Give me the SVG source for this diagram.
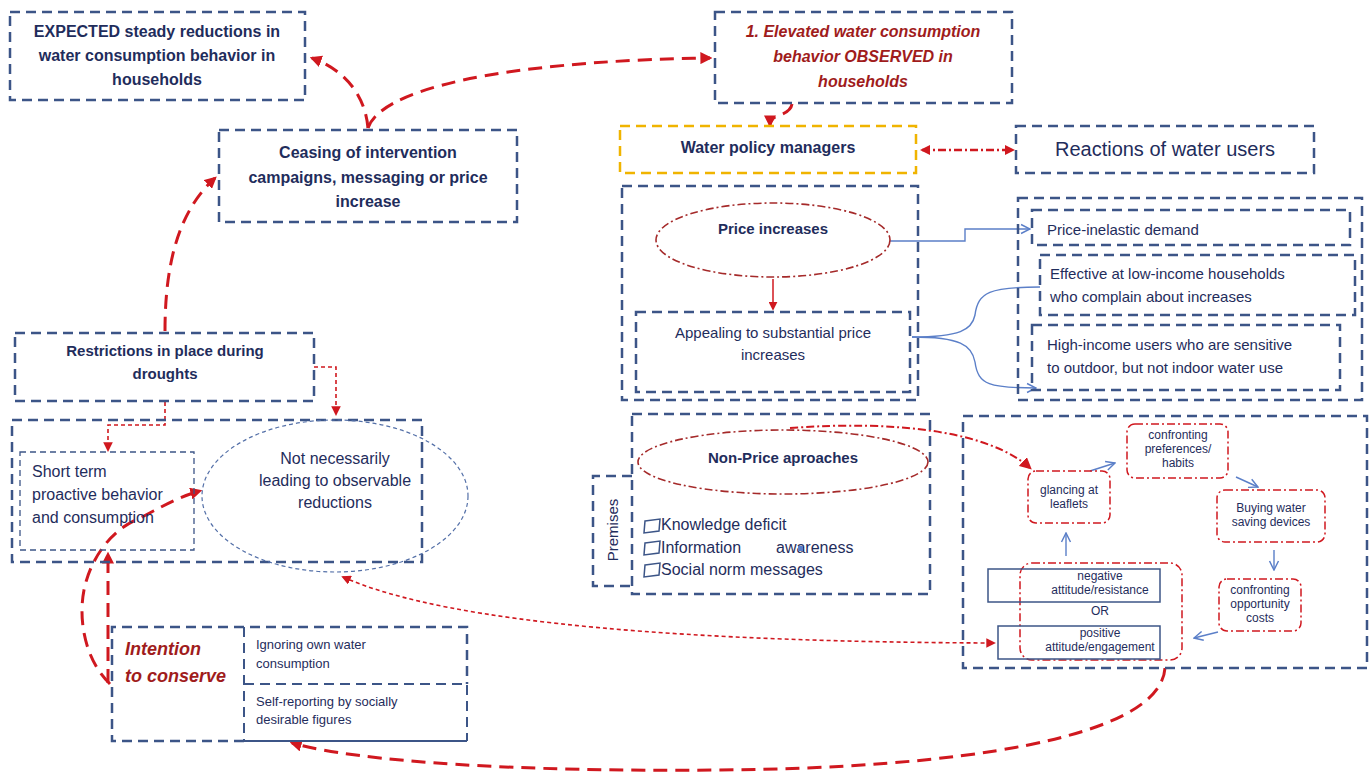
<svg xmlns="http://www.w3.org/2000/svg" width="1371" height="773" viewBox="0 0 1371 773">
<style>
text{font-family:"Liberation Sans",Arial,sans-serif;fill:#1f2d5c}
.b{font-weight:bold}
.box{fill:none;stroke:#3c5587;stroke-width:2.5;stroke-dasharray:10 6}
.thin{fill:none;stroke:#3c5587;stroke-width:1.3;stroke-dasharray:6 4}
.solid{fill:none;stroke:#3c5587;stroke-width:1.5}
.red{fill:none;stroke:#d0181f;stroke-width:3;stroke-dasharray:14 8}
.rsm{fill:none;stroke:#d0181f;stroke-width:1.6;stroke-dasharray:4 3}
.dd{fill:none;stroke:#a52a2a;stroke-width:1.6;stroke-dasharray:8 3 2 3}
.rr{fill:none;stroke:#d0181f;stroke-width:1.5;stroke-dasharray:8 3 2 3}
.blue{fill:none;stroke:#5b7fc8;stroke-width:1.4}
.m{text-anchor:middle}
.it{font-style:italic;font-weight:bold;fill:#a01c1c}
.s12{font-size:12px}
</style>
<defs>
<marker id="ah" viewBox="0 0 10 10" refX="8" refY="5" markerWidth="4" markerHeight="4" orient="auto-start-reverse"><path d="M0 0L10 5L0 10z" fill="#d0181f"/></marker>
<marker id="ahs" viewBox="0 0 10 10" refX="8" refY="5" markerWidth="6" markerHeight="6" orient="auto-start-reverse"><path d="M0 0L10 5L0 10z" fill="#d0181f"/></marker>
<marker id="ab" viewBox="0 0 10 10" refX="9" refY="5" markerWidth="8" markerHeight="8" orient="auto"><path d="M1 1L9 5L1 9" fill="none" stroke="#5b7fc8" stroke-width="1.3"/></marker>
</defs>

<g id="connectors">
<path class="red" d="M368 128C365 95 345 70 312 58" marker-end="url(#ah)"/>
<path class="red" d="M368 128C385 80 550 60 710 58" marker-end="url(#ah)"/>
<path class="red" d="M165 331C165 260 180 210 215 178" marker-end="url(#ah)"/>
<path class="red" d="M792 104C790 117 770 113 770 125" marker-end="url(#ah)"/>
<path class="rr" style="stroke-width:2.5" d="M922 150L1013 150" marker-start="url(#ah)" marker-end="url(#ah)"/>
<path class="rsm" d="M314 367L336 367L336 414" marker-end="url(#ahs)"/>
<path class="rsm" d="M165 402L165 425L108 425L108 450" marker-end="url(#ahs)"/>
<path class="red" d="M110 684C85 660 78 620 84 590C90 560 110 530 140 518C160 508 175 498 200 491" marker-end="url(#ah)"/>
<path class="red" d="M108 683L108 554" marker-end="url(#ah)"/>
<path class="red" d="M1165 668C1160 740 950 768 720 770C520 772 360 762 292 743" marker-end="url(#ah)"/>
<path class="rsm" d="M343 577C450 625 700 642 994 643" marker-start="url(#ahs)" marker-end="url(#ahs)"/>
<path class="rr" style="stroke-width:2" d="M790 428C900 420 990 432 1030 468" marker-end="url(#ahs)"/>
<path fill="none" stroke="#d0181f" stroke-width="1.5" d="M773 279L773 309" marker-end="url(#ahs)"/>
<path class="blue" d="M890 241L965 241L965 229L1030 229" marker-end="url(#ab)"/>
<path class="blue" d="M912 337C960 337 972 330 975 315C978 292 990 287 1040 287"/>
<path class="blue" d="M912 337C960 337 972 345 975 362C978 385 990 388 1036 388" marker-end="url(#ab)"/>
<path class="blue" d="M1090 471L1115 463" marker-end="url(#ab)"/>
<path class="blue" d="M1236 477L1258 487" marker-end="url(#ab)"/>
<path class="blue" d="M1274 550L1274 570" marker-end="url(#ab)"/>
<path class="blue" d="M1218 632L1194 638" marker-end="url(#ab)"/>
<path class="blue" d="M1066 556L1066 533" marker-end="url(#ab)"/>
</g>

<g id="expected">
<rect class="box" x="10" y="12" width="295" height="88"/>
<text class="b m" x="157" y="37" font-size="16">EXPECTED steady reductions in</text>
<text class="b m" x="157" y="61" font-size="16">water consumption behavior in</text>
<text class="b m" x="157" y="85" font-size="16">households</text>
</g>

<g id="ceasing">
<rect class="box" x="219" y="130" width="298" height="92"/>
<text class="b m" x="368" y="158" font-size="16">Ceasing of intervention</text>
<text class="b m" x="368" y="183" font-size="16">campaigns, messaging or price</text>
<text class="b m" x="368" y="207" font-size="16">increase</text>
</g>

<g id="elevated">
<rect class="box" x="715" y="12" width="297" height="91"/>
<text class="it m" x="863" y="37" font-size="16">1. Elevated water consumption</text>
<text class="it m" x="863" y="62" font-size="16">behavior OBSERVED in</text>
<text class="it m" x="863" y="87" font-size="16">households</text>
</g>

<g id="policy">
<rect class="box" style="stroke:#f0b400" x="620" y="126" width="296" height="47"/>
<text class="b m" x="768" y="153" font-size="16">Water policy managers</text>
</g>

<g id="reactions">
<rect class="box" x="1016" y="126" width="298" height="47"/>
<text class="m" x="1165" y="156" font-size="20">Reactions of water users</text>
</g>

<g id="price">
<rect class="box" x="622" y="186" width="296" height="214"/>
<ellipse class="dd" cx="773" cy="240" rx="117" ry="37"/>
<text class="b m" x="773" y="234" font-size="15">Price increases</text>
</g>

<g id="appealing">
<rect class="box" x="636" y="312" width="274" height="80"/>
<text class="m" x="773" y="338" font-size="15">Appealing to substantial price</text>
<text class="m" x="773" y="360" font-size="15">increases</text>
</g>

<g id="reactions-price">
<rect class="box" x="1018" y="198" width="344" height="202"/>
<rect class="box" x="1032" y="210" width="318" height="35"/>
<text x="1047" y="235" font-size="15">Price-inelastic demand</text>
<rect class="box" x="1040" y="255" width="315" height="60"/>
<text x="1050" y="279" font-size="15">Effective at low-income households</text>
<text x="1050" y="302" font-size="15">who complain about increases</text>
<rect class="box" x="1032" y="325" width="308" height="65"/>
<text x="1047" y="350" font-size="15">High-income users who are sensitive</text>
<text x="1047" y="373" font-size="15">to outdoor, but not indoor water use</text>
</g>

<g id="nonprice">
<rect class="box" x="632" y="414" width="298" height="180"/>
<ellipse class="dd" cx="783" cy="462" rx="145" ry="32"/>
<text class="b m" x="783" y="463" font-size="15">Non-Price aproaches</text>
<g fill="none" stroke="#3c5587" stroke-width="1.5">
<path d="M645 521L660 519L659 531L644 533Z"/>
<path d="M645 543L660 541L659 553L644 555Z"/>
<path d="M645 565L660 563L659 575L644 577Z"/>
</g>
<text x="661" y="530" font-size="16">Knowledge deficit</text>
<text x="661" y="553" font-size="16">Information</text>
<text x="776" y="553" font-size="16">awareness</text>
<rect x="798" y="546" width="5" height="5" fill="#5b7fc8"/>
<text x="661" y="575" font-size="16">Social norm messages</text>
</g>

<g id="premises">
<path class="box" d="M632 476L593 476L593 586L632 586"/>
<text class="m" transform="translate(618 530) rotate(-90)" font-size="15">Premises</text>
</g>

<g id="user-process">
<rect class="box" x="963" y="416" width="404" height="252"/>
</g>

<g id="preferences">
<rect class="rr" x="1127" y="424" width="101" height="54" rx="8"/>
<text class="m s12" x="1178" y="439">confronting</text>
<text class="m s12" x="1178" y="453">preferences/</text>
<text class="m s12" x="1178" y="467">habits</text>
</g>

<g id="glancing">
<rect class="rr" x="1028" y="471" width="82" height="52" rx="8"/>
<text class="m s12" x="1069" y="494">glancing at</text>
<text class="m s12" x="1069" y="508">leaflets</text>
</g>

<g id="buying">
<rect class="rr" x="1217" y="490" width="108" height="52" rx="8"/>
<text class="m s12" x="1271" y="512">Buying  water</text>
<text class="m s12" x="1271" y="526">saving devices</text>
</g>

<g id="opportunity">
<rect class="rr" x="1219" y="579" width="82" height="52" rx="8"/>
<text class="m s12" x="1260" y="594">confronting</text>
<text class="m s12" x="1260" y="608">opportunity</text>
<text class="m s12" x="1260" y="622">costs</text>
</g>

<g id="attitude">
<rect class="rr" x="1020" y="563" width="162" height="97" rx="12"/>
<rect class="solid" x="988" y="569" width="172" height="33"/>
<text class="m s12" x="1100" y="580">negative</text>
<text class="m s12" x="1100" y="594">attitude/resistance</text>
<text class="m s12" x="1100" y="615">OR</text>
<rect class="solid" x="998" y="626" width="162" height="33"/>
<text class="m s12" x="1100" y="637">positive</text>
<text class="m s12" x="1100" y="651">attitude/engagement</text>
</g>

<g id="restrictions">
<rect class="box" x="15" y="333" width="299" height="68"/>
<text class="b m" x="165" y="356" font-size="15">Restrictions in place during</text>
<text class="b m" x="165" y="379" font-size="15">droughts</text>
</g>

<g id="short-term-group">
<rect class="box" x="12" y="420" width="410" height="142"/>
</g>

<g id="short-term">
<rect class="thin" x="20" y="452" width="174" height="98"/>
<text x="32" y="477" font-size="16">Short term</text>
<text x="32" y="500" font-size="16">proactive behavior</text>
<text x="32" y="523" font-size="16">and consumption</text>
</g>

<g id="not-necessarily">
<ellipse class="thin" style="stroke-width:1.2;stroke-dasharray:4 3;stroke:#5470a8" cx="335" cy="496" rx="133" ry="76"/>
<text class="m" x="335" y="464" font-size="16">Not necessarily</text>
<text class="m" x="335" y="486" font-size="16">leading to observable</text>
<text class="m" x="335" y="508" font-size="16">reductions</text>
</g>

<g id="intention">
<path class="box" d="M244 741L112 741L112 627L467 627L467 684"/>
<text class="it" x="125" y="655" font-size="18">Intention</text>
<text class="it" x="125" y="682" font-size="18">to conserve</text>
<path class="box" style="stroke-width:2" d="M244 627L244 741"/>
<path class="box" style="stroke-width:2" d="M244 684L467 684L467 741"/>
<path class="solid" style="stroke-width:2" d="M244 741L467 741"/>
<text x="256" y="649" font-size="13">Ignoring own water</text>
<text x="256" y="668" font-size="13">consumption</text>
<text x="256" y="706" font-size="13">Self-reporting by socially</text>
<text x="256" y="724" font-size="13">desirable figures</text>
</g>
</svg>
